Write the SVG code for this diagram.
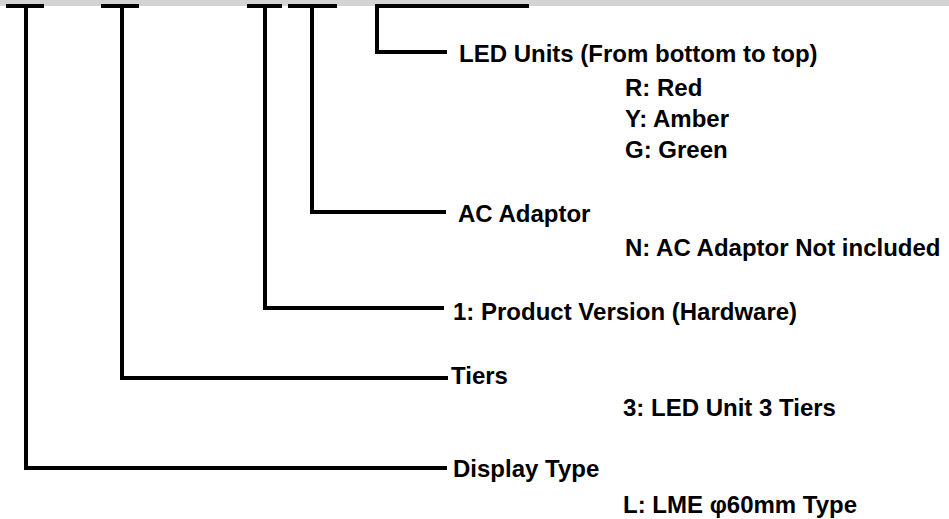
<svg xmlns="http://www.w3.org/2000/svg" width="949" height="519" viewBox="0 0 949 519">
<style>
.ln{fill:none;stroke:#000;stroke-width:4;stroke-linejoin:miter;stroke-linecap:butt}
.t{font-family:"Liberation Sans",Arial,sans-serif;font-weight:bold;font-size:24px;fill:#000}
</style>
<rect x="0" y="0" width="949" height="6" fill="#d3d3d3"/>
<g id="connectors">
<line class="ln" x1="6" y1="6" x2="44" y2="6"/>
<polyline class="ln" points="26,6 26,468 447,468"/>
<line class="ln" x1="101" y1="6" x2="139" y2="6"/>
<polyline class="ln" points="122,6 122,378 448,378"/>
<line class="ln" x1="247" y1="6" x2="282" y2="6"/>
<polyline class="ln" points="265,6 265,308 444,308"/>
<line class="ln" x1="288" y1="6" x2="337" y2="6"/>
<polyline class="ln" points="312,6 312,212 446,212"/>
<polyline class="ln" points="529,6 377,6 377,52 447,52"/>
</g>
<g id="led-units">
<text class="t" x="459" y="62">LED Units (From bottom to top)</text>
<text class="t" x="625" y="96">R: Red</text>
<text class="t" x="625" y="127">Y: Amber</text>
<text class="t" x="625" y="158">G: Green</text>
</g>
<g id="ac-adaptor">
<text class="t" x="458" y="222">AC Adaptor</text>
<text class="t" x="625" y="256">N: AC Adaptor Not included</text>
</g>
<g id="product-version">
<text class="t" x="453" y="320">1: Product Version (Hardware)</text>
</g>
<g id="tiers">
<text class="t" x="451" y="384">Tiers</text>
<text class="t" x="623" y="416">3: LED Unit 3 Tiers</text>
</g>
<g id="display-type">
<text class="t" x="453" y="477">Display Type</text>
<text class="t" x="623" y="513">L: LME φ60mm Type</text>
</g>
</svg>
